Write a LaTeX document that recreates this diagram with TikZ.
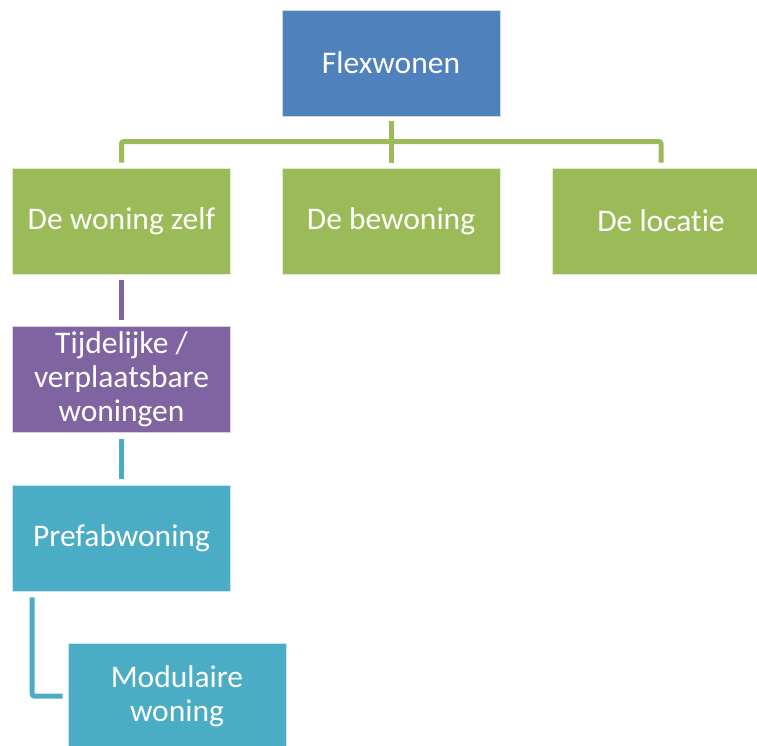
\documentclass[tikz,border=0pt]{standalone}
\usepackage{fontspec}
\setmainfont{Carlito}[Ligatures = NoCommon]

\definecolor{flexblue}{HTML}{4F81BD}
\definecolor{flexgreen}{HTML}{9BBB59}
\definecolor{flexpurple}{HTML}{8064A2}
\definecolor{flexteal}{HTML}{4BACC6}

\tikzset{
	box/.style = {minimum width = 218pt, minimum height = 106pt, inner sep = 0pt, text = white, align = center, draw = white!70!#1, line width = 0.6pt, fill = #1, font = \fontsize{31.5}{34}\selectfont},
	link/.style = {line width = 5pt, draw = #1, rounded corners = 2pt}
}

\begin{document}
\begin{tikzpicture}[x = 1pt, y = -1pt]
	\path[use as bounding box, clip] (0, 0) rectangle (757, 745);
	
	\node[box = flexblue] (flex) at (391, 63) {Flexwonen};
	
	\node[box = flexgreen] (zelf) at (121.5, 221) {De woning zelf};
	\node[box = flexgreen] (bew) at (391, 221) {De bewoning};
	\node[box = flexgreen] (loc) at (661, 221) {De locatie};
	
	\node[box = flexpurple] (tijd) at (121.5, 379.5) {Tijdelijke /\\verplaatsbare\\woningen};
	
	\node[box = flexteal] (prefab) at (121.5, 538) {Prefabwoning};
	\node[box = flexteal] (modul) at (177, 696) {Modulaire\\woning};
	
	\draw[link = flexgreen] ([yshift = -5pt] flex.south) -- ([yshift = 5pt] bew.north);
	\draw[link = flexgreen] ([yshift = 5pt] zelf.north) -- ++(0, -21) -| ([yshift = 5pt] loc.north);
	
	\draw[link = flexpurple] ([yshift = -6pt] zelf.south) -- ([yshift = 6pt] tijd.north);
	
	\draw[link = flexteal] ([yshift = -6pt] tijd.south) -- ([yshift = 6pt] prefab.north);
	\draw[link = flexteal] ([xshift = 20pt, yshift = -6pt] prefab.south west) |- ([xshift = -5pt] modul.west);
\end{tikzpicture}
\end{document}
